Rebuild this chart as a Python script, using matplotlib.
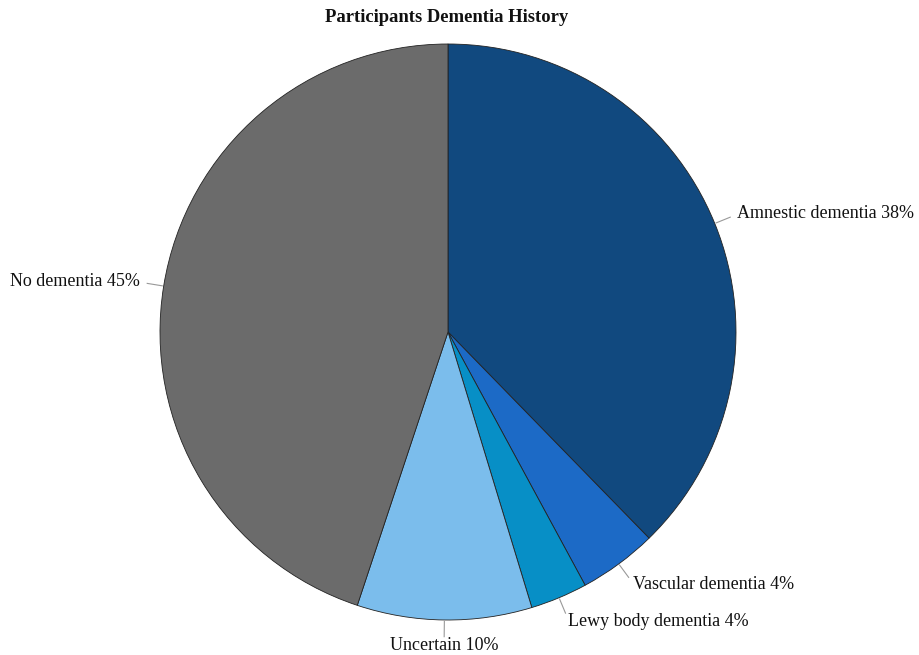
import numpy as np
import matplotlib
matplotlib.use("Agg")
import matplotlib.pyplot as plt

categories = ["Amnestic dementia", "Vascular dementia", "Lewy body dementia", "Uncertain", "No dementia"]
values = [37.7, 4.4, 3.2, 9.8, 44.9]
label_pct = ["38%", "4%", "4%", "10%", "45%"]
colors = ["#11497f", "#1c6ac6", "#078fc6", "#7bbdec", "#6b6b6b"]

plt.rcParams['font.family'] = ['Liberation Serif', 'DejaVu Serif']

W, H = 919, 655
fig = plt.figure(figsize=(W/100, H/100), dpi=100)
ax = fig.add_axes([0, 0, 1, 1])
R = 288.0
cx, cy = 448.0, 332.0

wedges, _ = ax.pie(values, colors=colors, startangle=90, counterclock=False,
                   radius=1.0, center=(0, 0), frame=True,
                   wedgeprops=dict(edgecolor='#222222', linewidth=0.6))
ax.set_xlim(-cx/R, (W-cx)/R)
ax.set_ylim(-(H-cy)/R, cy/R)
ax.set_aspect('auto')
ax.axis('off')

for w, cat, pct in zip(wedges, categories, label_pct):
    ang = np.deg2rad((w.theta1 + w.theta2) / 2)
    x, y = np.cos(ang), np.sin(ang)
    ax.plot([x*1.005, x*1.058], [y*1.005, y*1.058], color='#999999', lw=0.8)
    tx, ty = x*1.085, y*1.09
    if abs(x) < 0.1:
        ha = 'center'
    elif x > 0:
        ha = 'left'
    else:
        ha = 'right'
    ax.text(tx, ty, f"{cat} {pct}", ha=ha, va='center', fontsize=13, color='#111111')

fig.text(447/W, 1 - 18/H, "Participants Dementia History", ha='center', va='center',
         fontsize=13.4, fontweight='bold', color='#111111')

fig.savefig("out.png", dpi=100)
